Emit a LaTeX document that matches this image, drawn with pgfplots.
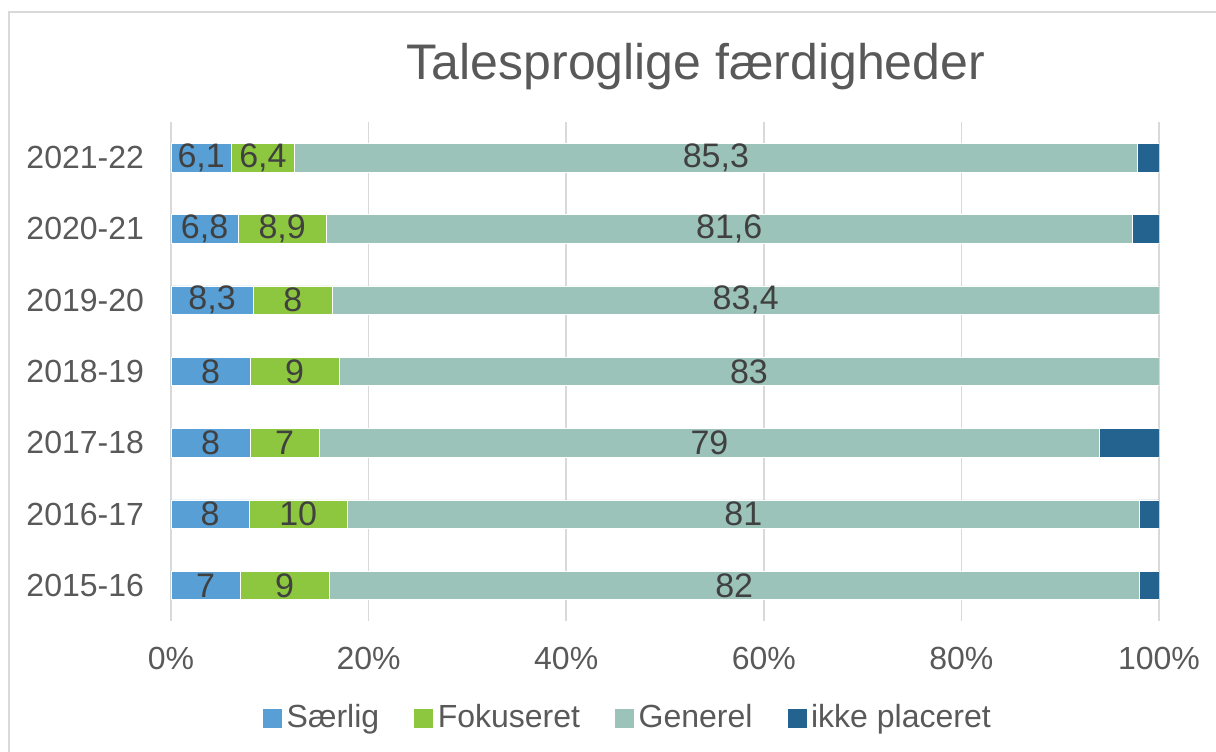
\documentclass[border=0pt]{standalone}
\usepackage{pgfplots}
\pgfplotsset{compat=1.18}
\usepackage{pgfplotstable}
\usepackage{fontspec}
\setmainfont{Liberation Sans}
\definecolor{cS}{RGB}{87,159,212}
\definecolor{cF}{RGB}{141,198,63}
\definecolor{cG}{RGB}{156,195,185}
\definecolor{cI}{RGB}{36,98,144}
\definecolor{txt}{RGB}{89,89,89}
\definecolor{lab}{RGB}{64,64,64}
\definecolor{grd}{RGB}{217,217,217}
\pgfplotstableread{
y s f g i sl fl gl
0 7 9 82 2 7 9 82
1 7.921 9.901 80.198 1.980 8 10 81
2 8 7 79 6 8 7 79
3 8 9 83 0 8 9 83
4 8.325 8.024 83.651 0 8,3 8 83,4
5 6.8 8.9 81.6 2.7 6,8 8,9 81,6
6 6.1 6.4 85.3 2.2 6,1 6,4 85,3
}\data
\begin{document}
\begin{tikzpicture}
\useasboundingbox (0,0) rectangle (608pt,375.5pt);
\draw[grd,line width=0.8pt] (4.5pt,-10pt) -- (4.5pt,369.5pt) -- (620pt,369.5pt);
\node[txt,font=\fontsize{25}{29}\selectfont] at (348pt,342pt) {Talesproglige færdigheder};
\begin{axis}[
  at={(85.5pt,65pt)}, anchor=south west,
  scale only axis, width=494pt, height=249.5pt,
  xbar stacked, bar width=0.40,
  xmin=0, xmax=100, ymin=-0.5, ymax=6.5,
  axis line style={draw=none},
  major tick length=0pt,
  xtick={0,20,40,60,80,100},
  xticklabels={0\%,20\%,40\%,60\%,80\%,100\%},
  ytick={0,...,6},
  yticklabels={2015-16,2016-17,2017-18,2018-19,2019-20,2020-21,2021-22},
  xmajorgrids, grid style={grd,line width=0.8pt},
  ticklabel style={txt,font=\fontsize{16}{19}\selectfont},
  xticklabel style={yshift=-9.5pt},
  yticklabel style={xshift=-10pt},
  legend style={at={(0.463,-0.194)}, anchor=center, draw=none,
    legend columns=-1, font=\fontsize{16}{19}\selectfont, text=txt,
    /tikz/every even column/.append style={column sep=15pt}},
  legend cell align=left,
  legend image code/.code={\fill[#1] (0pt,-5pt) rectangle (10pt,5pt);},
  nodes near coords style={font=\fontsize{17}{20}\selectfont, text=lab},
]
\addplot[fill=cS, draw=white, line width=0.3pt, point meta=explicit symbolic, nodes near coords, nodes near coords align=center] table[x=s, y=y, meta=sl] {\data};
\addplot[fill=cF, draw=white, line width=0.3pt, point meta=explicit symbolic, nodes near coords, nodes near coords align=center] table[x=f, y=y, meta=fl] {\data};
\addplot[fill=cG, draw=white, line width=0.3pt, point meta=explicit symbolic, nodes near coords, nodes near coords align=center] table[x=g, y=y, meta=gl] {\data};
\addplot[fill=cI, draw=white, line width=0.3pt] table[x=i, y=y] {\data};
\legend{Særlig, Fokuseret, Generel, ikke placeret}
\end{axis}
\end{tikzpicture}
\end{document}
